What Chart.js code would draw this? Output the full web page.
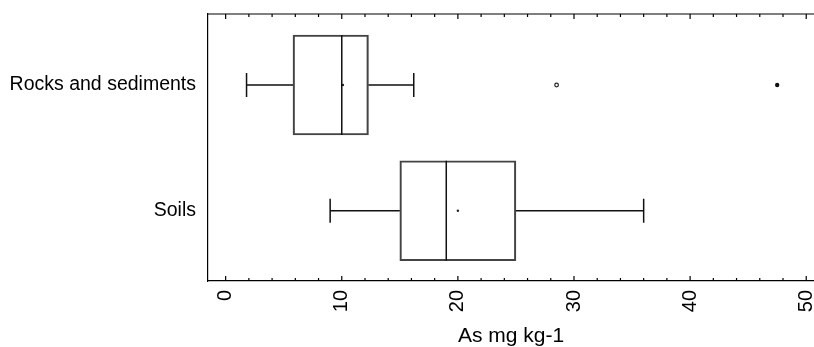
<!DOCTYPE html>
<html>
<head>
<meta charset="utf-8">
<script src="https://cdn.jsdelivr.net/npm/chart.js@4.4.1/dist/chart.umd.min.js"></script>
<style>
  body { margin: 0; background: #fff; overflow: hidden; }
  #wrap { width: 814px; height: 347px; position: relative; }
</style>
</head>
<body>
<div id="wrap"><canvas id="boxChart"></canvas></div>
<script>
// ---- DATA ----
const groups = ["Rocks and sediments", "Soils"];
const whiskerLow = [1.8, 9.0];
const q1 = [5.8, 15.0];
const median = [10.0, 19.0];
const q3 = [12.3, 25.0];
const whiskerHigh = [16.2, 36.0];
const means = [10.1, 20.0];
const outliers = [28.5];   // Rocks and sediments
const extremes = [47.5];   // Rocks and sediments
const xTicks = [0, 10, 20, 30, 40, 50];
const minorStep = 2;

const FONT = "'Liberation Sans', Arial, sans-serif";

// whiskers, caps, median line, inner ticks and the top frame line
const boxPlot = {
  id: "boxPlot",
  afterDatasetsDraw(chart) {
    const { ctx, chartArea: area, scales: { x, y } } = chart;
    const bars = chart.getDatasetMeta(0).data;
    ctx.save();
    ctx.strokeStyle = "#111";
    ctx.lineWidth = 1.5;
    groups.forEach((g, i) => {
      const cy = y.getPixelForValue(i);
      const capTop = y.getPixelForValue(i - 0.095);
      const capBot = y.getPixelForValue(i + 0.095);
      const xl = x.getPixelForValue(whiskerLow[i]);
      const xq1 = x.getPixelForValue(q1[i]);
      const xq3 = x.getPixelForValue(q3[i]);
      const xh = x.getPixelForValue(whiskerHigh[i]);
      ctx.beginPath();
      ctx.moveTo(xl, cy); ctx.lineTo(xq1, cy);
      ctx.moveTo(xq3, cy); ctx.lineTo(xh, cy);
      ctx.moveTo(xl, capTop); ctx.lineTo(xl, capBot);
      ctx.moveTo(xh, capTop); ctx.lineTo(xh, capBot);
      // median
      const bar = bars[i];
      const xm = x.getPixelForValue(median[i]);
      ctx.moveTo(xm, bar.y - bar.height / 2);
      ctx.lineTo(xm, bar.y + bar.height / 2);
      ctx.stroke();
    });

    // top frame line
    ctx.lineWidth = 1.2;
    ctx.strokeStyle = "#000";
    ctx.beginPath();
    ctx.moveTo(area.left, area.top);
    ctx.lineTo(chart.width, area.top);
    // tick marks pointing inwards, top and bottom
    for (let v = Math.ceil(x.min / minorStep) * minorStep; v <= x.max; v += minorStep) {
      const px = x.getPixelForValue(v);
      const len = v % 10 === 0 ? 5 : 3;
      ctx.moveTo(px, area.top); ctx.lineTo(px, area.top + len);
      ctx.moveTo(px, area.bottom); ctx.lineTo(px, area.bottom - len);
    }
    ctx.stroke();
    ctx.restore();
  },
};

const ctx = document.getElementById("boxChart").getContext("2d");
const boxChart = new Chart(ctx, {
  type: "bar",
  data: {
    datasets: [
      {
        type: "bar",
        label: "IQR",
        data: groups.map((g, i) => ({ x: [q1[i], q3[i]], y: i })),
        backgroundColor: "rgba(255,255,255,0)",
        borderColor: "#444",
        borderWidth: 1.5,
        borderSkipped: false,
        barThickness: 100,
      },
      {
        type: "scatter",
        label: "Mean",
        data: groups.map((g, i) => ({ x: means[i], y: i })),
        pointStyle: "circle",
        pointRadius: 1.2,
        backgroundColor: "#222",
        borderColor: "#222",
        borderWidth: 0,
      },
      {
        type: "scatter",
        label: "Outliers",
        data: outliers.map((v) => ({ x: v, y: 0 })),
        pointStyle: "circle",
        pointRadius: 1.8,
        backgroundColor: "#fff",
        borderColor: "#222",
        borderWidth: 1.2,
      },
      {
        type: "scatter",
        label: "Extremes",
        data: extremes.map((v) => ({ x: v, y: 0 })),
        pointStyle: "circle",
        pointRadius: 2.2,
        backgroundColor: "#111",
        borderColor: "#111",
        borderWidth: 0,
      },
    ],
  },
  options: {
    indexAxis: "y",
    responsive: true,
    maintainAspectRatio: false,
    animation: false,
    layout: { autoPadding: false, padding: { top: 14, right: 0, bottom: 0, left: 0 } },
    plugins: {
      legend: { display: false },
      tooltip: { enabled: false },
    },
    scales: {
      x: {
        type: "linear",
        position: "bottom",
        offset: false,
        beginAtZero: false,
        min: -1.52,
        max: 50.67,
        afterBuildTicks: (scale) => {
          scale.ticks = xTicks.map((v) => ({ value: v }));
        },
        afterFit: (scale) => {
          scale.height = 66;
          scale.paddingLeft = 0;
          scale.paddingRight = 0;
        },
        grid: { display: false, drawTicks: false, offset: false },
        border: { display: true, color: "#000", width: 1.2 },
        ticks: {
          color: "#000",
          font: { family: FONT, size: 20 },
          minRotation: 90,
          maxRotation: 90,
          padding: 9,
        },
        title: {
          display: true,
          text: "As mg kg-1",
          color: "#000",
          font: { family: FONT, size: 21, lineHeight: 1 },
          padding: { top: 0, bottom: 0 },
        },
      },
      y: {
        type: "linear",
        reverse: true,
        offset: false,
        beginAtZero: false,
        min: -0.565,
        max: 1.559,
        afterBuildTicks: (scale) => {
          scale.ticks = groups.map((g, i) => ({ value: i }));
        },
        afterFit: (scale) => {
          scale.width = 208;
          scale.paddingTop = 0;
          scale.paddingBottom = 0;
        },
        grid: { display: false, drawTicks: false, offset: false },
        border: { display: true, color: "#000", width: 1.2 },
        ticks: {
          color: "#000",
          font: { family: FONT, size: 19.5 },
          padding: 12,
          callback: (v) => groups[v],
        },
      },
    },
  },
  plugins: [boxPlot],
});
</script>
</body>
</html>
